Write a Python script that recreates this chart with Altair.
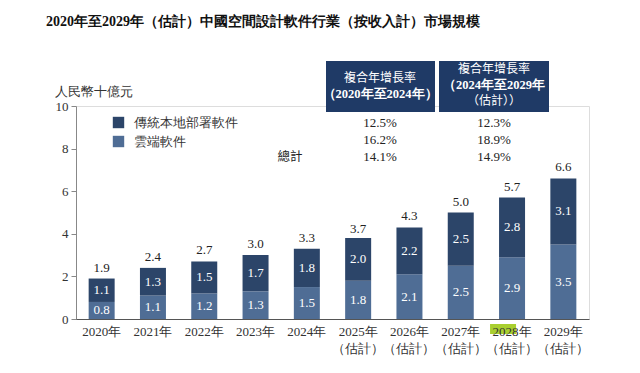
import altair as alt
import pandas as pd

years = ["2020年", "2021年", "2022年", "2023年", "2024年",
         "2025年", "2026年", "2027年", "2028年", "2029年"]
cloud = [0.8, 1.1, 1.2, 1.3, 1.5, 1.8, 2.1, 2.5, 2.9, 3.5]
onprem = [1.1, 1.3, 1.5, 1.7, 1.8, 2.0, 2.2, 2.5, 2.8, 3.1]
totals = [1.9, 2.4, 2.7, 3.0, 3.3, 3.7, 4.3, 5.0, 5.7, 6.6]
series = ["傳統本地部署軟件", "雲端軟件"]
cagr_1 = ["12.5%", "16.2%", "14.1%"]
cagr_2 = ["12.3%", "18.9%", "14.9%"]
title_text = "2020年至2029年（估計）中國空間設計軟件行業（按收入計）市場規模"
y_title = "人民幣十億元"
head_1 = ["複合年增長率", "（2020年至2024年）"]
head_2 = ["複合年增長率", "（2024年至2029年", "（估計））"]
total_label = "總計"

DARK = "#2c4569"
LIGHT = "#4f6d95"
HEAD = "#1f3a66"
SERIF = "Liberation Serif"
SANS = "Noto Sans CJK TC"

rows = []
for i, y in enumerate(years):
    rows.append({"year": y, "segment": series[1], "value": cloud[i], "order": 0})
    rows.append({"year": y, "segment": series[0], "value": onprem[i], "order": 1})
df = pd.DataFrame(rows)
df_tot = pd.DataFrame({"year": years, "total": totals})

xscale = alt.Scale(domain=years, paddingInner=0.5, paddingOuter=0.25)
yscale = alt.Scale(domain=[0, 10], nice=False)

x_enc = alt.X("year:N", scale=xscale, sort=years, axis=alt.Axis(
    title=None, labelAngle=0, ticks=False, domainColor="#555", domainWidth=1.2,
    bandPosition=0.5, labelAlign="center", labelBaseline="top", zindex=1,
    labelFont=SERIF, labelFontSize=13, labelColor="#333", labelPadding=6,
    labelLineHeight=17,
    labelExpr="datum.value >= '2025' ? [datum.value, '（估計）'] : datum.value"))

bars = alt.Chart(df).mark_bar(size=26).encode(
    x=x_enc,
    y=alt.Y("value:Q", stack="zero", scale=yscale, axis=alt.Axis(
        title=None, values=list(range(0, 11)), grid=False,
        labelExpr="datum.value % 2 == 0 ? datum.label : ''",
        domainColor="#888", tickColor="#888", tickSize=5,
        labelFont=SERIF, labelFontSize=13, labelColor="#333", labelPadding=3)),
    color=alt.Color("segment:N", scale=alt.Scale(domain=series, range=[DARK, LIGHT]),
                    legend=alt.Legend(title=None, orient="none", legendX=36, legendY=10,
                                      symbolType="square", symbolSize=130,
                                      symbolStrokeWidth=0, labelFont=SERIF,
                                      labelFontSize=13, labelColor="#333",
                                      rowPadding=5, labelOffset=9)),
    order=alt.Order("order:Q"),
)

seg_labels = alt.Chart(df).transform_stack(
    stack="value", groupby=["year"], sort=[alt.SortField("order")], as_=["v0", "v1"]
).transform_calculate(mid="(datum.v0 + datum.v1) / 2").mark_text(
    font=SERIF, fontSize=13, color="white", baseline="middle"
).encode(
    x=alt.X("year:N", scale=xscale, sort=years),
    y=alt.Y("mid:Q", scale=yscale),
    text=alt.Text("value:Q", format=".1f"),
)

tot_labels = alt.Chart(df_tot).mark_text(
    font=SERIF, fontSize=13, color="#222", baseline="bottom", dy=-4
).encode(
    x=alt.X("year:N", scale=xscale, sort=years),
    y=alt.Y("total:Q", scale=yscale),
    text=alt.Text("total:Q", format=".1f"),
)

hl = alt.Chart(pd.DataFrame({"year": ["2028年"]})).mark_bar(
    size=26, color="#a9cf2f", xOffset=-9
).encode(
    x=alt.X("year:N", scale=xscale, sort=years),
    y=alt.value(218), y2=alt.value(228),
)

one = pd.DataFrame({"a": [0]})

def txt(text, x, y, **kw):
    params = dict(font=SERIF, fontSize=13, color="#222", baseline="middle", align="center")
    params.update(kw)
    return alt.Chart(one).mark_text(text=text, **params).encode(
        x=alt.value(x), y=alt.value(y))

def box(x1, x2, y1, y2):
    return alt.Chart(one).mark_rect(color=HEAD).encode(
        x=alt.value(x1), x2=alt.value(x2), y=alt.value(y1), y2=alt.value(y2))

layers = [hl, bars, seg_labels, tot_labels,
          txt(title_text, 187, -84, fontSize=14, fontWeight="bold", color="#111"),
          txt(y_title, -21, -14, align="left", color="#333"),
          box(250, 359, -45, 6), box(363, 473, -45, 6),
          txt(head_1[0], 304, -28, font=SANS, color="white", fontSize=12),
          txt(head_1[1], 304, -12, color="white", fontSize=12.5, fontWeight="bold"),
          txt(head_2[0], 418, -37, font=SANS, color="white", fontSize=12),
          txt(head_2[1], 418, -21.5, color="white", fontSize=12.5, fontWeight="bold"),
          txt(head_2[2], 418, -5.5, font=SANS, color="white", fontSize=12),
          txt(total_label, 214, 51, font=SANS, fontSize=12.5)]
for i, (a, b) in enumerate(zip(cagr_1, cagr_2)):
    layers.append(txt(a, 304, 17 + 17 * i))
    layers.append(txt(b, 418, 17 + 17 * i))

chart = alt.layer(*layers).properties(
    width=513, height=213,
    autosize=alt.AutoSizeParams(type="none"),
    padding={"left": 68, "top": 98, "right": 43, "bottom": 46},
).configure_view(stroke=None).configure(background="white")

chart.save("out.html", embed_options={"renderer": "svg", "actions": False})
